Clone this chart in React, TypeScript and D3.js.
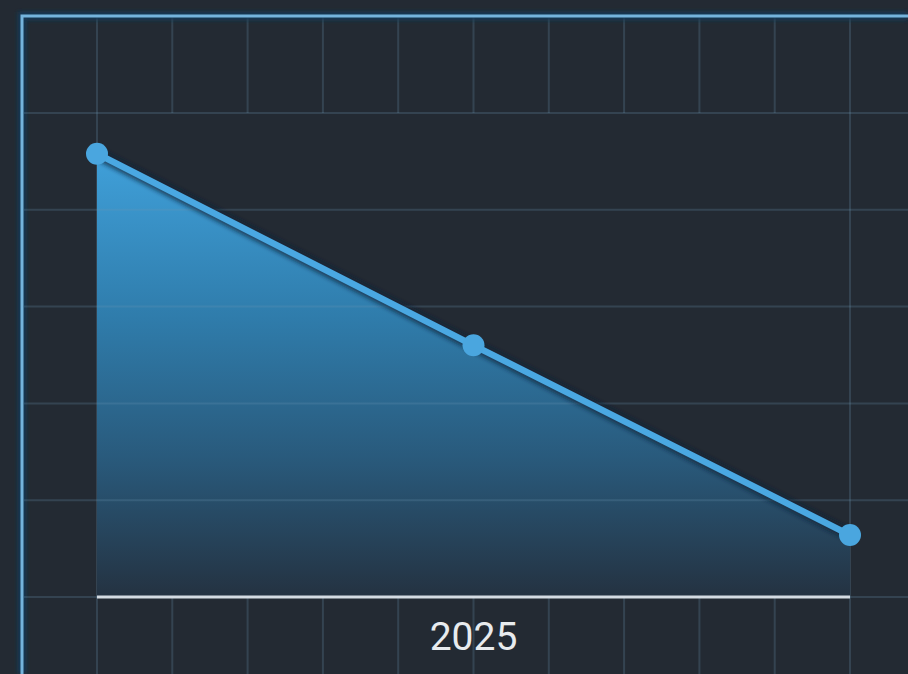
import React from 'react'
import * as d3 from 'd3'

// --- data ---
const pointSteps = [0, 5, 10]
const pointValues = [22.9, 13, 3.2]
const xLabel = '2025'
const xLabelStep = 5
const xGridSteps = d3.range(0, 12) // one extra past the right edge
const yGridValues = [0, 5, 10, 15, 20, 25]

const W = 908
const H = 674
const frame = { left: 22, top: 16 }
const plot = { left: 97, right: 850, top: 113, bottom: 597 }

const bg = '#232a33'
const gridColor = 'rgba(110,150,180,0.24)'

export default function App() {
  const x = d3.scaleLinear().domain([0, 10]).range([plot.left, plot.right])
  const y = d3.scaleLinear().domain([0, 25]).range([plot.bottom, plot.top])

  const data = pointSteps.map((s, i) => ({ s, v: pointValues[i] }))

  const line = d3.line<{ s: number; v: number }>()
    .x(d => x(d.s))
    .y(d => y(d.v))

  const area = d3.area<{ s: number; v: number }>()
    .x(d => x(d.s))
    .y0(y(0))
    .y1(d => y(d.v))

  return (
    <div style={{ position: 'absolute', left: 0, top: 0 }}>
      <svg width={W} height={H} style={{ display: 'block', background: bg }}>
        <defs>
          <linearGradient id="areaFill" x1="0" y1={y(24)} x2="0" y2={y(0)} gradientUnits="userSpaceOnUse">
            <stop offset="0%" stopColor="#42a5e0" />
            <stop offset="40%" stopColor="#2f7cab" />
            <stop offset="70%" stopColor="#295a7c" />
            <stop offset="100%" stopColor="#243241" />
          </linearGradient>
          <filter id="glow" x="-10%" y="-10%" width="120%" height="120%">
            <feGaussianBlur stdDeviation="2" />
          </filter>
        </defs>

        <rect width={W} height={H} fill={bg} />

        {/* vertical grid: top and bottom bands, edges full height */}
        <g stroke={gridColor} strokeWidth={2}>
          {xGridSteps.map(s => {
            const px = x(s)
            const edge = s === 0 || s === 10
            return edge ? (
              <line key={s} x1={px} x2={px} y1={frame.top} y2={H} />
            ) : (
              <g key={s}>
                <line x1={px} x2={px} y1={frame.top} y2={plot.top} />
                <line x1={px} x2={px} y1={plot.bottom} y2={H} />
              </g>
            )
          })}
        </g>

        {/* frame */}
        <path d={`M${frame.left},${H}V${frame.top}H${W}`} fill="none" stroke="#123a58" strokeWidth={8} filter="url(#glow)" />
        <path d={`M${frame.left},${H}V${frame.top}H${W}`} fill="none" stroke="#74b4dc" strokeWidth={3} />

        {/* area */}
        <path d={area(data) || ''} fill="url(#areaFill)" />

        {/* horizontal grid, full width, shows through the fill */}
        <g stroke={gridColor} strokeWidth={2}>
          {yGridValues.map(v => (
            <line key={v} x1={frame.left + 2} x2={W} y1={y(v)} y2={y(v)} />
          ))}
        </g>

        {/* line + points */}
        <path d={line(data) || ''} fill="none" stroke="#0c2236" strokeWidth={12} strokeOpacity={0.7} filter="url(#glow)" />
        <path d={line(data) || ''} fill="none" stroke="#4aa8e2" strokeWidth={6.5} strokeLinecap="round" />
        {data.map(d => (
          <circle key={d.s} cx={x(d.s)} cy={y(d.v)} r={11} fill="#4aa6df" />
        ))}

        {/* x axis */}
        <line x1={x(0)} x2={x(10)} y1={y(0)} y2={y(0)} stroke="#d4dbe2" strokeWidth={3} />
        <text x={x(xLabelStep)} y={650} textAnchor="middle" fill="#e8ebee"
          style={{ fontFamily: 'Roboto, "Noto Sans", sans-serif', fontSize: 39 }}>
          {xLabel}
        </text>
      </svg>
    </div>
  )
}
